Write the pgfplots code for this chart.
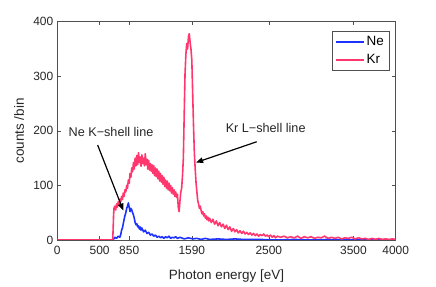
\documentclass[border=0pt]{standalone}
\usepackage{pgfplots}
\pgfplotsset{compat=1.18}
\usepackage{fontspec}
\setmainfont{Liberation Sans}
\usetikzlibrary{arrows.meta}
\definecolor{neblue}{RGB}{30,50,255}
\definecolor{krpink}{RGB}{255,55,110}
\definecolor{axgray}{RGB}{80,80,80}
\pgfplotstableread{
x y
0 0
655 0
660 20
665 45
670 58
680 62
690 55
700 66
710 60
720 70
730 64
740 75
750 70
760 80
770 74
780 86
790 80
800 92
810 88
820 100
830 95
840 110
850 104
860 122
870 115
880 132
890 125
900 142
910 130
920 150
930 136
940 155
950 138
960 160
970 142
980 152
990 135
1000 156
1010 140
1020 150
1030 136
1040 158
1050 138
1060 148
1070 130
1080 146
1090 128
1100 140
1110 126
1120 138
1130 122
1140 136
1150 118
1160 132
1170 116
1180 130
1190 112
1200 126
1210 108
1220 122
1230 106
1240 118
1250 102
1260 115
1270 98
1280 110
1290 95
1300 108
1310 92
1320 104
1330 90
1340 100
1350 86
1360 96
1370 84
1380 92
1390 80
1400 88
1410 78
1420 84
1430 60
1440 52
1450 72
1460 88
1470 95
1480 118
1490 150
1500 230
1510 305
1520 340
1530 360
1540 350
1550 372
1560 378
1570 362
1580 350
1590 330
1600 270
1610 210
1620 160
1630 130
1640 105
1650 88
1660 72
1670 66
1680 58
1690 62
1700 54
1710 48
1720 52
1730 44
1740 48
1750 40
1760 44
1770 37
1780 42
1790 35
1800 40
1820 32
1840 38
1860 29
1880 35
1900 26
1920 32
1940 24
1960 29
1980 21
2000 27
2020 19
2040 24
2060 16
2080 21
2100 15
2120 19
2140 13
2160 17
2180 12
2200 16
2220 11
2240 14
2260 10
2280 13
2300 9
2320 12
2340 8
2360 11
2380 7
2400 10
2420 8
2440 11
2460 7
2480 9
2500 6
2520 9
2540 5
2560 8
2580 4
2600 7
2640 5
2680 7
2720 4
2760 6
2800 4
2840 7
2880 3
2920 6
2960 4
3000 6
3040 3
3080 5
3120 4
3160 7
3200 3
3240 5
3280 3
3320 5
3360 2
3400 4
3440 3
3480 5
3520 2
3560 4
3600 2
3640 3
3680 1
3720 3
3760 1
3800 3
3840 1
3880 2
3920 1
3960 2
4000 1
}\krdata
\pgfplotstableread{
x y
0 0
660 0
680 5
700 3
720 7
740 5
750 10
760 18
770 22
780 30
790 38
800 45
810 50
820 58
830 62
840 68
850 60
860 52
870 58
880 55
890 50
900 46
910 40
920 32
930 28
940 30
950 24
960 26
970 20
980 24
990 18
1000 22
1020 15
1040 18
1060 12
1080 14
1100 9
1120 11
1140 7
1160 9
1180 5
1200 7
1220 4
1240 6
1260 3
1280 6
1300 4
1320 7
1340 3
1360 5
1380 4
1400 6
1420 3
1450 5
1500 2
1550 4
1600 2
1650 3
1700 1
1750 3
1800 1
1900 2
2000 1
2100 2
2200 1
2400 1
2600 0
2800 1
3000 0
3200 1
3400 0
3800 1
4000 0
}\nedata
\begin{document}
\begin{tikzpicture}
\useasboundingbox (-57.3bp,-47bp) rectangle (378.7bp,240bp);
\begin{axis}[
  at={(0,0)}, anchor=south west,
  scale only axis,
  width=338.4bp, height=218.3bp,
  xmin=0, xmax=4000, ymin=0, ymax=400,
  xtick={0,500,850,1590,2500,3500,4000},
  ytick={0,100,200,300,400},
  /pgf/number format/assume math mode=true,
  /pgf/number format/1000 sep={},
  tick align=inside,
  major tick length=3.5bp,
  axis line style={axgray, line width=0.5pt},
  tick style={axgray, line width=0.5pt},
  ticklabel style={font=\fontsize{12}{14}\selectfont, text=black!85},
  xticklabel style={anchor=base, yshift=-14.8bp},
  yticklabel style={anchor=east, xshift=-0.5bp},
  label style={font=\fontsize{13.5}{15}\selectfont, text=black!85},
  xlabel={Photon energy [eV]},
  xlabel style={at={(axis description cs:0.5,0)}, anchor=base, yshift=-39bp},
  ylabel={counts /bin},
  ylabel style={at={(axis description cs:-0.0984,0.5)}, anchor=base, rotate=0},
  legend style={at={(0.9802,0.9575)}, anchor=north east, draw=axgray, fill=white,
    font=\fontsize{13.5}{15}\selectfont, inner xsep=3pt, inner ysep=3.5pt, row sep=3pt,
    legend cell align=left},
  legend image code/.code={\draw[#1, line width=1.6pt] (0bp,0bp) -- (28bp,0bp);},
]
\addplot[neblue, line width=1.6pt, line join=round] table[x=x,y=y] {\nedata};
\addlegendentry{Ne}
\addplot[krpink, line width=1.6pt, line join=round] table[x=x,y=y] {\krdata};
\addlegendentry{Kr}
\draw[-{Triangle[length=7bp,width=5.5bp]}, line width=1.2pt, black] (axis cs:477,174) -- (axis cs:780,54);
\draw[-{Triangle[length=7bp,width=5.5bp]}, line width=1.2pt, black] (axis cs:2357,180) -- (axis cs:1640,142);
\node[font=\fontsize{12.7}{14}\selectfont, text=black!85] at (axis cs:635,198) {Ne K−shell line};
\node[font=\fontsize{12.7}{14}\selectfont, text=black!85] at (axis cs:2463,206) {Kr L−shell line};
\end{axis}
\end{tikzpicture}
\end{document}
